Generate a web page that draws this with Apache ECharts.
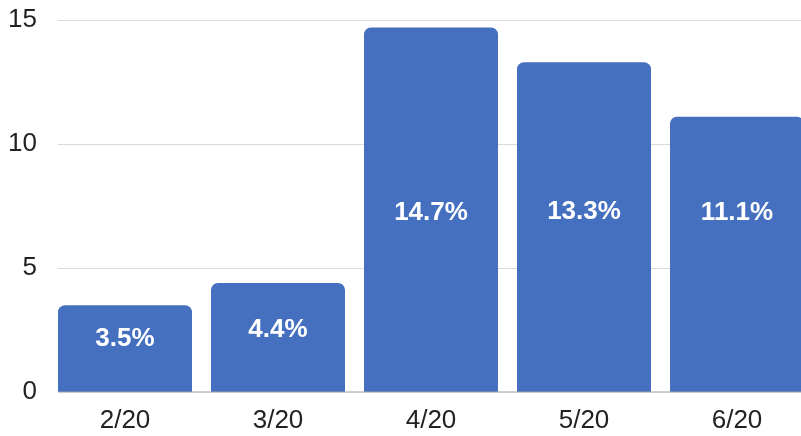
<!DOCTYPE html>
<html>
<head>
<meta charset="utf-8">
<script src="https://cdn.jsdelivr.net/npm/echarts@6/dist/echarts.min.js"></script>
<style>
  html, body { margin: 0; padding: 0; background: #fff; overflow: hidden; }
  /* last bar runs off the right edge in the original, so the canvas is a bit wider than the window */
  #chart { width: 814px; height: 436px; }
</style>
</head>
<body>
<div id="chart"></div>
<script>
// data
const months = ['2/20', '3/20', '4/20', '5/20', '6/20'];
const rates = [3.5, 4.4, 14.7, 13.3, 11.1];
const yTicks = [0, 5, 10, 15];

// label vertical nudges (px), matches original placement
const labelShift = [-10, -8, 3, -15, -42];

const chart = echarts.init(document.getElementById('chart'));

const fontFam = '"Liberation Sans", Arial, sans-serif';

chart.setOption({
  backgroundColor: '#fff',
  animation: false,
  grid: [
    // bars
    { left: 48.5, right: 0.5, top: 20, bottom: 44 },
    // gridlines + y labels
    { left: 58, right: 0, top: 20, bottom: 44 }
  ],
  xAxis: [
    {
      type: 'category',
      gridIndex: 0,
      data: months,
      axisLine: { show: false },
      axisTick: { show: false },
      axisLabel: { color: '#222', fontSize: 26, fontFamily: fontFam, margin: 16 }
    },
    {
      type: 'value',
      gridIndex: 1,
      min: 0,
      max: 1,
      axisLine: { show: false },
      axisTick: { show: false },
      axisLabel: { show: false },
      splitLine: { show: false }
    }
  ],
  yAxis: [
    {
      type: 'value',
      gridIndex: 0,
      min: yTicks[0],
      max: yTicks[yTicks.length - 1],
      interval: 5,
      axisLine: { show: false },
      axisTick: { show: false },
      axisLabel: { show: false },
      splitLine: { show: false }
    },
    {
      type: 'value',
      gridIndex: 1,
      min: yTicks[0],
      max: yTicks[yTicks.length - 1],
      interval: 5,
      axisLine: { show: false },
      axisTick: { show: false },
      axisLabel: { color: '#222', fontSize: 26, fontFamily: fontFam, margin: 21 },
      splitLine: { show: true, lineStyle: { color: '#dadada', width: 1 } }
    }
  ],
  series: [
    {
      // baseline at 0
      type: 'line',
      xAxisIndex: 1,
      yAxisIndex: 1,
      data: [[0, 0], [1, 0]],
      symbol: 'none',
      silent: true,
      lineStyle: { color: '#9e9e9e', width: 1 },
      z: 3
    },
    {
      type: 'bar',
      xAxisIndex: 0,
      yAxisIndex: 0,
      barWidth: 134,
      data: rates.map((v, i) => ({
        value: v,
        label: { offset: [0, labelShift[i]] }
      })),
      itemStyle: { color: '#4470bf', borderRadius: [7, 7, 0, 0] },
      label: {
        show: true,
        position: 'inside',
        color: '#fff',
        fontWeight: 'bold',
        fontSize: 26,
        fontFamily: fontFam,
        formatter: (p) => p.value.toFixed(1) + '%'
      },
      z: 2
    }
  ]
});
</script>
</body>
</html>
